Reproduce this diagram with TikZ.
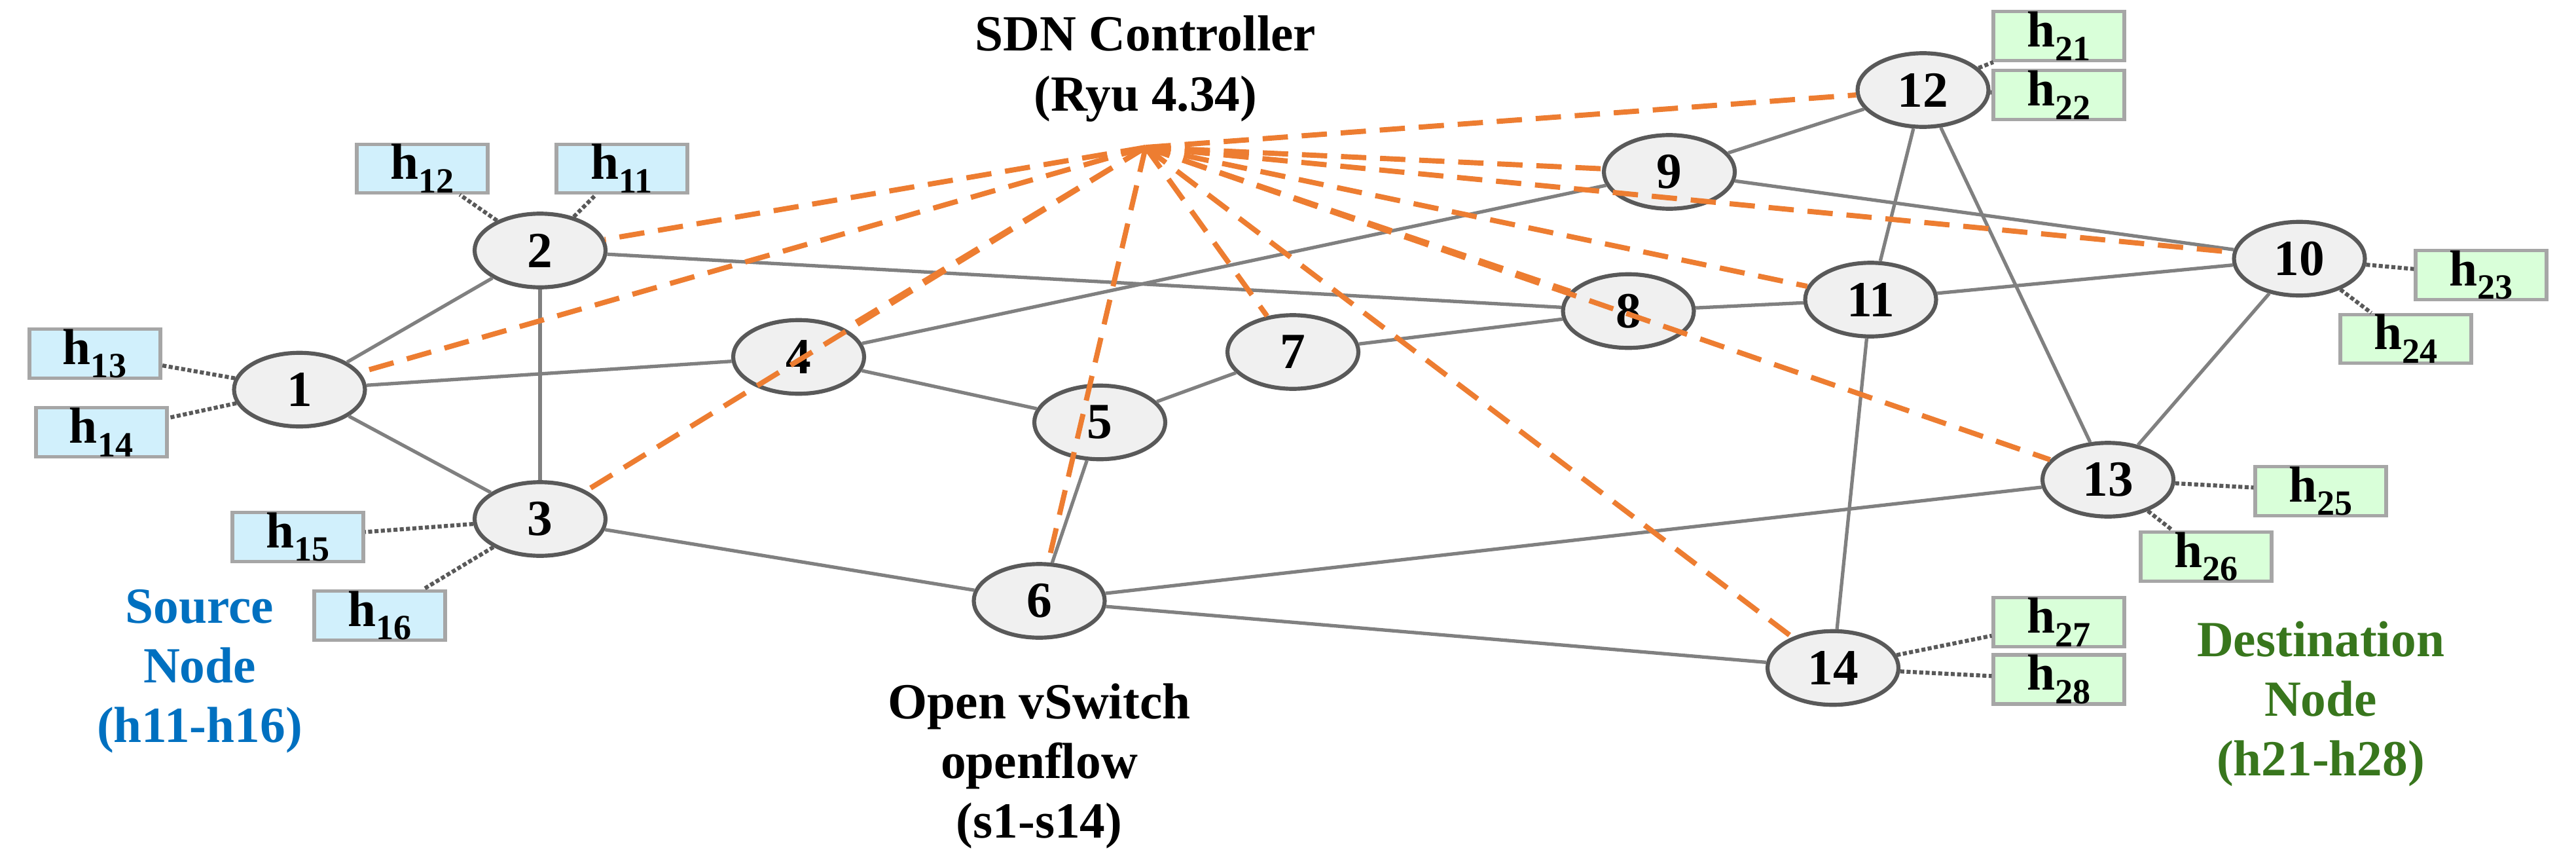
\documentclass[tikz,border=0pt]{standalone}
\usepackage{fontspec}
\setmainfont{Liberation Serif}
\usetikzlibrary{shapes.geometric}
\definecolor{ctrlorange}{RGB}{237,125,49}
\definecolor{srcblue}{RGB}{0,112,192}
\definecolor{dstgreen}{RGB}{56,118,29}
\newcommand{\hst}[1]{h\textsubscript{#1}}
\begin{document}
\begin{tikzpicture}[x=0.5mm, y=-0.5mm, line width=3pt,
  every node/.style = {align=center, font=\bfseries\fontsize{44}{52}\selectfont},
  switch/.style = {ellipse, draw=black!65, fill=black!6, line width=3.5pt,
    minimum width=40mm, minimum height=22.5mm, inner sep=0pt},
  srchost/.style = {draw=black!35, fill=cyan!18, line width=3pt,
    minimum width=40mm, minimum height=14mm, inner sep=0pt},
  dsthost/.style = {srchost, fill=green!15},
  link/.style = {draw=black!50},
  hostlink/.style = {draw=black!65, dotted, line width=3.5pt},
  ctrl/.style = {draw=ctrlorange, line width=4.5pt, dash pattern=on 22pt off 12pt}]
\useasboundingbox (0,0) rectangle (1574,520);

% switches
\node[switch] (1) at (183,238) {1};
\node[switch] (2) at (330,153) {2};
\node[switch] (3) at (330,317) {3};
\node[switch] (4) at (488,218) {4};
\node[switch] (5) at (672,258) {5};
\node[switch] (6) at (635,367) {6};
\node[switch] (7) at (790,215) {7};
\node[switch] (8) at (995,190) {8};
\node[switch] (9) at (1020,105) {9};
\node[switch] (10) at (1405,158) {10};
\node[switch] (11) at (1143,183) {11};
\node[switch] (12) at (1175,55) {12};
\node[switch] (13) at (1288,293) {13};
\node[switch] (14) at (1120,408) {14};

% hosts
\node[srchost] (h12) at (258,103) {\hst{12}};
\node[srchost] (h11) at (380,103) {\hst{11}};
\node[srchost] (h13) at (58,216) {\hst{13}};
\node[srchost] (h14) at (62,264) {\hst{14}};
\node[srchost] (h15) at (182,328) {\hst{15}};
\node[srchost] (h16) at (232,376) {\hst{16}};
\node[dsthost] (h21) at (1258,22) {\hst{21}};
\node[dsthost] (h22) at (1258,58) {\hst{22}};
\node[dsthost] (h23) at (1516,168) {\hst{23}};
\node[dsthost] (h24) at (1470,207) {\hst{24}};
\node[dsthost] (h25) at (1418,300) {\hst{25}};
\node[dsthost] (h26) at (1348,340) {\hst{26}};
\node[dsthost] (h27) at (1258,380) {\hst{27}};
\node[dsthost] (h28) at (1258,415) {\hst{28}};

% labels
\node (ctrltext) at (700,42) {SDN Controller\\(Ryu 4.34)};
\coordinate (hub) at (700,90);
\node (ovs) at (635,468) {Open vSwitch\\openflow\\(s1-s14)};
\node[text=srcblue] (src) at (122,410) {Source\\Node\\(h11-h16)};
\node[text=dstgreen] (dst) at (1418,430) {Destination\\Node\\(h21-h28)};

% links
\foreach \a/\b in {1/2,1/3,2/3,1/4,2/8,4/5,4/9,5/7,5/6,7/8,3/6,6/13,6/14,
  8/11,11/10,9/12,9/10,12/11,12/13,10/13,11/14}
  \draw[link] (\a) -- (\b);

\foreach \s/\h in {2/h12,2/h11,1/h13,1/h14,3/h15,3/h16,12/h21,12/h22,
  10/h23,10/h24,13/h25,13/h26,14/h27,14/h28}
  \draw[hostlink] (\s) -- (\h);

\foreach \s in {1,2,3,4,6,7,8,9,10,11,12,13,14}
  \draw[ctrl] (hub) -- (\s);
\end{tikzpicture}
\end{document}
